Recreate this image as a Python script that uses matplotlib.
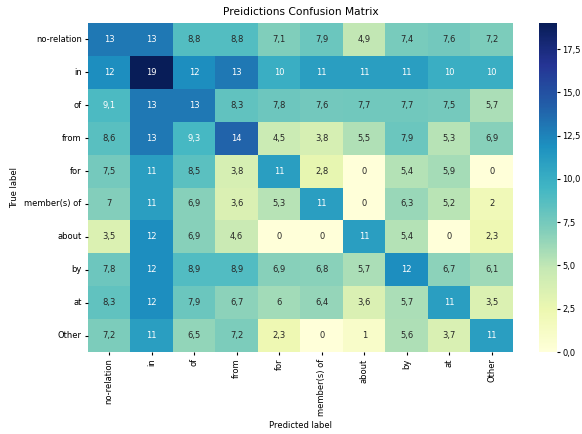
import numpy as np
import seaborn as sns
from matplotlib import pyplot as plt
from matplotlib.ticker import FuncFormatter

labels = ["no-relation", "in", "of", "from", "for", "member(s) of", "about", "by", "at", "Other"]

row_norel = [13, 13, 8.8, 8.8, 7.1, 7.9, 4.9, 7.4, 7.6, 7.2]
row_in = [12, 19, 12, 13, 10, 11, 11, 11, 10, 10]
row_of = [9.1, 13, 13, 8.3, 7.8, 7.6, 7.7, 7.7, 7.5, 5.7]
row_from = [8.6, 13, 9.3, 14, 4.5, 3.8, 5.5, 7.9, 5.3, 6.9]
row_for = [7.5, 11, 8.5, 3.8, 11, 2.8, 0, 5.4, 5.9, 0]
row_member = [7, 11, 6.9, 3.6, 5.3, 11, 0, 6.3, 5.2, 2]
row_about = [3.5, 12, 6.9, 4.6, 0, 0, 11, 5.4, 0, 2.3]
row_by = [7.8, 12, 8.9, 8.9, 6.9, 6.8, 5.7, 12, 6.7, 6.1]
row_at = [8.3, 12, 7.9, 6.7, 6, 6.4, 3.6, 5.7, 11, 3.5]
row_other = [7.2, 11, 6.5, 7.2, 2.3, 0, 1, 5.6, 3.7, 11]

cm = np.array([row_norel, row_in, row_of, row_from, row_for,
               row_member, row_about, row_by, row_at, row_other])

# decimal comma like the original locale
annot = np.array([[f"{v:.2g}".replace(".", ",") for v in row] for row in cm])

fs = 6
fig = plt.figure(figsize=(5.82, 4.34), dpi=100)
ax = fig.add_axes([0.1512, 0.1889, 0.7302, 0.758])
cax = fig.add_axes([0.926, 0.1889, 0.031, 0.758])
sns.heatmap(cm, ax=ax, cbar_ax=cax, annot=annot, fmt="", cmap="YlGnBu", vmin=0, vmax=19,
            xticklabels=labels, yticklabels=labels,
            annot_kws={"fontsize": fs},
            cbar_kws={"format": FuncFormatter(lambda x, p: f"{x:.1f}".replace(".", ","))})
ax.set_title("Preidictions Confusion Matrix", fontsize=7.7)
ax.set_xlabel("Predicted label", fontsize=fs)
ax.set_ylabel("True label", fontsize=fs)
ax.tick_params(labelsize=fs, length=2.5, pad=2)
plt.setp(ax.get_xticklabels(), rotation=90)
plt.setp(ax.get_yticklabels(), rotation=0)
cax.tick_params(labelsize=fs, length=2.5, pad=1.5)
plt.savefig("out.png")
